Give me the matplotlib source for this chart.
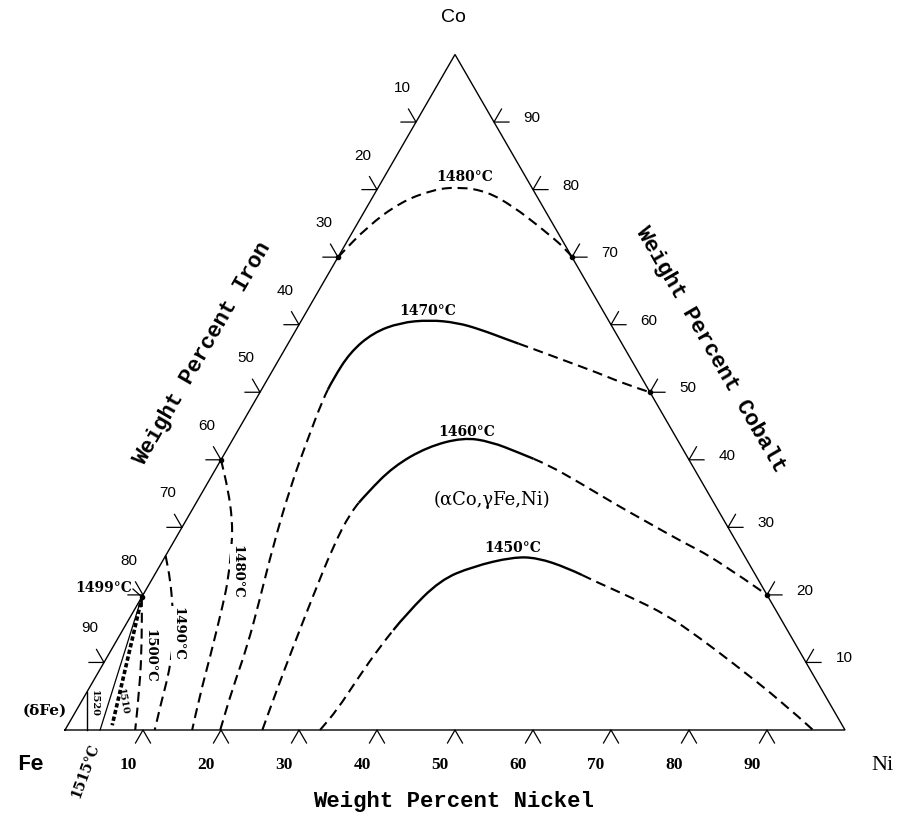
import numpy as np
import matplotlib
matplotlib.use("Agg")
import matplotlib.pyplot as plt
from matplotlib.path import Path
from matplotlib.patches import PathPatch

# ---------------- data (weight percent Ni / Co; Fe = balance) ----------------
TICKS = [10, 20, 30, 40, 50, 60, 70, 80, 90]

iso1480a_ni = [0, 1.5, 3.9, 7.2, 10.4, 14.3, 18.7, 23.6, 28.8, 30]
iso1480a_co = [70, 74.5, 78.1, 80.0, 80.4, 79.7, 77.5, 74.5, 71.1, 70]

iso1470_ni = [19.9, 18.4, 17.2, 15.2, 13.1, 10.9, 9.6, 8.6, 8.4, 8.6, 10.1, 12.8, 16.4,
              20.1, 23.6, 27.8, 31.3, 36.4, 41.8, 46.5, 50.0]
iso1470_co = [0, 6.2, 12.3, 19.7, 27.1, 36.0, 43.0, 48.9, 51.9, 55.9, 58.8, 60.3, 60.7,
              60.3, 59.3, 57.8, 56.6, 54.8, 52.9, 51.1, 50.0]

iso1460_ni = [25.3, 24.2, 23.1, 21.9, 20.8, 20.5, 21.2, 22.6, 25.5, 29.4, 33.2, 37.8,
              42.2, 47.7, 53.5, 59.2, 64.9, 71.0, 80.0]
iso1460_co = [0, 5.9, 12.3, 19.7, 27.1, 32.2, 35.1, 39.0, 41.9, 43.3, 42.7, 41.0,
              39.3, 36.6, 33.6, 30.8, 28.0, 25.2, 20.0]

iso1450_ni = [32.7, 33.4, 33.7, 34.2, 35.2, 37.0, 40.2, 44.6, 47.8, 52.4, 57.2, 62.6,
              68.7, 74.6, 80.7, 90.1, 95.9]
iso1450_co = [0, 3.0, 7.4, 12.3, 17.3, 22.2, 24.2, 25.6, 25.5, 24.0, 21.9, 19.7,
              17.0, 13.6, 9.9, 4.0, 0]

iso1480b_ni = [0, 3.1, 5.9, 7.7, 9.8, 10.9, 13.2, 14.7, 16.3]
iso1480b_co = [40, 35.6, 31.1, 27.4, 22.2, 18.8, 10.8, 5.2, 0]
iso1490_ni = [0, 2.4, 4.7, 6.9, 8.4, 9.4, 10.2, 11.5]
iso1490_co = [25.8, 22.2, 18.2, 14.1, 10.4, 7.4, 4.4, 0]
iso1500_ni = [0, 3.2, 6.4, 9.0]
iso1500_co = [19.7, 13.3, 6.4, 0]
iso1510_ni = [0.3, 5.7]
iso1510_co = [18.8, 0.7]
perit_ni = [0, 4.5]
perit_co = [19.7, 0]
delta_ni = [2.8, 0]
delta_co = [0, 5.6]

# ---------------- geometry helpers ----------------
S3 = np.sqrt(3) / 2
PX = 7.8  # pixels per wt%


def tern(ni, co):
    ni = np.asarray(ni, float)
    co = np.asarray(co, float)
    return ni + co / 2, co * S3


def P(px, py):
    """figure pixel -> data coords"""
    return (px - 65) / PX, (730 - py) / PX


def off(x, y, dx, dy):
    return x + dx / PX, y - dy / PX


fig = plt.figure(figsize=(9.01, 8.18), dpi=100)
ax = fig.add_axes([0, 0, 1, 1])
ax.set_xlim(-65 / PX, (901 - 65) / PX)
ax.set_ylim(-(818 - 730) / PX, 730 / PX)
ax.axis("off")

K = "black"
tx, ty = tern([0, 100, 0, 0], [0, 0, 100, 0])
ax.plot(tx, ty, color=K, lw=1.0, solid_joinstyle="miter")

L = 15 / PX
c60, s60 = 0.5, S3
for v in TICKS:
    x, y = tern(v, 0)
    ax.plot([x - c60 * L, x, x + c60 * L], [y - s60 * L, y, y - s60 * L], color=K, lw=0.9)
    t = off(x, y, -15, 35)
    ax.text(t[0], t[1], str(v), ha="center", va="center", fontsize=12.5,
            family="Liberation Serif", fontweight="bold")
    x, y = tern(0, 100 - v)
    ax.plot([x - L, x, x - c60 * L], [y, y, y + s60 * L], color=K, lw=0.9)
    t = off(x, y, -14, -34)
    ax.text(t[0], t[1], str(v), ha="center", va="center", fontsize=11, family="Liberation Sans")
    x, y = tern(100 - v, v)
    ax.plot([x + L, x, x + c60 * L], [y, y, y + s60 * L], color=K, lw=0.9)
    t = off(x, y, 38, -4)
    ax.text(t[0], t[1], str(v), ha="center", va="center", fontsize=11, family="Liberation Sans")


def segments(x, y):
    """quadratic-bezier segments through the read points (one per point)"""
    pts = np.column_stack([x, y])
    n = len(pts)
    if n < 3:
        return [("L", pts[0], pts[-1])]
    segs = [("L", pts[0], (pts[0] + pts[1]) / 2)]
    for i in range(1, n - 1):
        start = (pts[i - 1] + pts[i]) / 2
        end = (pts[i] + pts[i + 1]) / 2 if i < n - 2 else pts[-1]
        segs.append(("Q", start, pts[i], end))
    return segs


def draw_run(segs, **kw):
    if not segs:
        return
    verts = [segs[0][1]]
    codes = [Path.MOVETO]
    for s in segs:
        if s[0] == "L":
            verts.append(s[2])
            codes.append(Path.LINETO)
        else:
            verts += [s[2], s[3]]
            codes += [Path.CURVE3, Path.CURVE3]
    ax.add_patch(PathPatch(Path(verts, codes), fill=False, capstyle="butt", **kw))


DASH = dict(edgecolor=K, lw=1.5, linestyle=(0, (4.8, 2.8)))
SOLID = dict(edgecolor=K, lw=1.7)


def curve(ni, co, solid=None):
    x, y = tern(ni, co)
    segs = segments(x, y)
    if solid is None:
        draw_run(segs, **DASH)
        return
    i0, i1 = solid
    draw_run(segs[:i0 + 1], **DASH)
    draw_run(segs[i0 + 1:i1 + 1], **SOLID)
    draw_run(segs[i1 + 1:], **DASH)


curve(iso1480a_ni, iso1480a_co)
curve(iso1470_ni, iso1470_co, (7, 15))
curve(iso1460_ni, iso1460_co, (5, 11))
curve(iso1450_ni, iso1450_co, (3, 9))
curve(iso1480b_ni, iso1480b_co)
curve(iso1490_ni, iso1490_co)
curve(iso1500_ni, iso1500_co)

x, y = tern(iso1510_ni, iso1510_co)
ax.plot(x, y, color=K, lw=2.6, dashes=(1.2, 0.7))
x, y = tern(perit_ni, perit_co)
ax.plot(x, y, color=K, lw=0.9)
x, y = tern(delta_ni, delta_co)
ax.plot(x, y, color=K, lw=1.0)

for ni, co in [(iso1480a_ni[0], iso1480a_co[0]), (iso1480a_ni[-1], iso1480a_co[-1]),
               (iso1470_ni[-1], iso1470_co[-1]), (iso1460_ni[-1], iso1460_co[-1]),
               (iso1480b_ni[0], iso1480b_co[0]), (iso1500_ni[0], iso1500_co[0])]:
    x, y = tern(ni, co)
    ax.plot(x, y, "o", ms=3, color=K)

LAB = dict(ha="center", va="center", fontsize=10, family="DejaVu Serif", fontweight="bold")
for txt, pos in [("1480°C", (465, 177)), ("1470°C", (428, 311)),
                 ("1460°C", (467, 432)), ("1450°C", (513, 548))]:
    ax.text(*P(*pos), txt, **LAB)

WB = dict(facecolor="white", edgecolor="none", pad=0.5)
ax.text(*P(237, 572), "1480°C", rotation=270, bbox=WB, **{**LAB, "fontsize": 9.5})
ax.text(*P(178, 634), "1490°C", rotation=270, bbox=WB, **{**LAB, "fontsize": 9.5})
ax.text(*P(150, 656), "1500°C", rotation=270, bbox=WB, **{**LAB, "fontsize": 9.5})
ax.text(*P(123, 702), "1510", rotation=280, **{**LAB, "fontsize": 7})
ax.text(*P(94, 703), "1520", rotation=270, **{**LAB, "fontsize": 7})
ax.text(*P(85, 771), "1515°C", rotation=70, **{**LAB, "fontsize": 10})
ax.text(*P(104, 588), "1499°C", **LAB)
x0, y0 = P(133, 589)
x1, y1 = tern(perit_ni[0], perit_co[0])
ax.plot([x0, x1], [y0, y1], color=K, lw=0.9)
ax.text(*P(45, 711), "(δFe)", ha="center", va="center", fontsize=11,
        family="DejaVu Serif", fontweight="bold")
ax.text(*P(492, 500), "(αCo,γFe,Ni)", ha="center", va="center", fontsize=13,
        family="DejaVu Serif")

ax.text(*P(453, 18), "Co", ha="center", va="center", fontsize=14, family="Liberation Sans")
ax.text(*P(30, 765), "Fe", ha="center", va="center", fontsize=16,
        family="Liberation Mono", fontweight="bold")
ax.text(*P(882, 765), "Ni", ha="center", va="center", fontsize=16,
        family="Liberation Serif")
TT = dict(ha="center", va="center", fontsize=16, family="Liberation Mono", fontweight="bold")
ax.text(*P(453, 801), "Weight Percent Nickel", **TT)
ax.text(*P(203, 354), "Weight Percent Iron", rotation=60, **TT)
ax.text(*P(710, 349), "Weight Percent Cobalt", rotation=-60, **TT)

fig.savefig("out.png", dpi=100)
